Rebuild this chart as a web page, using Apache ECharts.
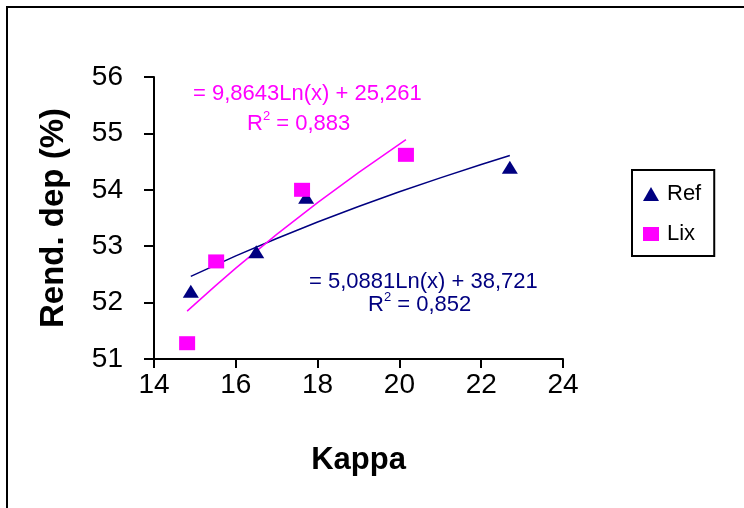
<!DOCTYPE html>
<html><head><meta charset="utf-8">
<script src="https://cdn.jsdelivr.net/npm/echarts@6/dist/echarts.min.js"></script>
<style>html,body{margin:0;padding:0;background:#fff}#c{width:744px;height:508px}</style>
</head><body><div id="c"></div>
<script>
// Data
const refX = [14.9, 16.5, 17.72, 22.7];
const refY = [52.2, 52.9, 53.87, 54.4];
const lixX = [14.81, 15.52, 17.62, 20.16];
const lixY = [51.28, 52.73, 54.0, 54.62];
// Trend curves (from the displayed log equations)
const refTrendX = [14.9, 16, 17, 18, 19, 20, 21, 22, 22.7];
const refTrendY = [52.466, 52.828, 53.137, 53.428, 53.703, 53.964, 54.212, 54.449, 54.608];
const lixTrendX = [14.81, 15.5, 16, 17, 18, 19, 20.16];
const lixTrendY = [51.848, 52.297, 52.611, 53.209, 53.772, 54.306, 54.890];
const xTicks = [14, 16, 18, 20, 22, 24];
const yTicks = [51, 52, 53, 54, 55, 56];

const NAVY = '#000080', PINK = '#FF00FF';
const FONT = 'Liberation Sans, Arial, sans-serif';
const pair = (xs, ys) => xs.map((x, i) => [x, ys[i]]);

const chart = echarts.init(document.getElementById('c'), null, {renderer: 'canvas'});
chart.setOption({
  animation: false,
  backgroundColor: '#fff',
  grid: {left: 154, right: 181, top: 77, bottom: 149},
  xAxis: {
    type: 'value', min: xTicks[0], max: xTicks[xTicks.length - 1], interval: 2,
    name: 'Kappa', nameLocation: 'middle', nameGap: 86,
    nameTextStyle: {fontFamily: FONT, fontSize: 31, fontWeight: 'bold', color: '#000'},
    axisLine: {lineStyle: {color: '#000', width: 2}},
    axisTick: {show: true, length: 9, inside: false, lineStyle: {color: '#000', width: 2}},
    axisLabel: {fontFamily: FONT, fontSize: 28, color: '#000', margin: 12},
    splitLine: {show: false}
  },
  yAxis: {
    type: 'value', min: yTicks[0], max: yTicks[yTicks.length - 1], interval: 1,
    name: 'Rend. dep (%)', nameLocation: 'middle', nameGap: 84, nameRotate: 90,
    nameTextStyle: {fontFamily: FONT, fontSize: 33, fontWeight: 'bold', color: '#000'},
    axisLine: {show: true, lineStyle: {color: '#000', width: 2}},
    axisTick: {show: true, length: 10, inside: false, lineStyle: {color: '#000', width: 2}},
    axisLabel: {fontFamily: FONT, fontSize: 28, color: '#000', margin: 31},
    splitLine: {show: false}
  },
  legend: {
    orient: 'vertical', left: 632, top: 170,
    padding: [13, 13, 11, 11], itemGap: 18,
    borderColor: '#000', borderWidth: 2,
    itemWidth: 16, itemHeight: 14,
    textStyle: {fontFamily: FONT, fontSize: 22, color: '#000', padding: [0, 0, 0, 3]},
    data: [{name: 'Ref', icon: 'triangle'}, {name: 'Lix', icon: 'rect'}]
  },
  series: [
    {name: 'RefTrend', type: 'line', data: pair(refTrendX, refTrendY), showSymbol: false, symbol: 'none',
     lineStyle: {color: NAVY, width: 1.5}, z: 2, silent: true},
    {name: 'LixTrend', type: 'line', data: pair(lixTrendX, lixTrendY), showSymbol: false, symbol: 'none',
     lineStyle: {color: PINK, width: 1.5}, z: 2, silent: true},
    {name: 'Ref', type: 'scatter', data: pair(refX, refY), symbol: 'triangle', symbolSize: [16, 13],
     itemStyle: {color: NAVY, opacity: 1}, z: 3},
    {name: 'Lix', type: 'scatter', data: pair(lixX, lixY), symbol: 'rect', symbolSize: [16, 14],
     itemStyle: {color: PINK, opacity: 1}, z: 3}
  ],
  graphic: [
    {type: 'rect', shape: {x: 7, y: 7, width: 800, height: 600},
     style: {fill: 'none', stroke: '#000', lineWidth: 2}, silent: true, z: -1},
    {type: 'text', x: 193, y: 94, style: {text: '= 9,8643Ln(x) + 25,261', fill: PINK, font: '22px ' + FONT, verticalAlign: 'middle'}},
    {type: 'text', x: 247, y: 122, style: {
      text: '{r|R}{s|2}{r| = 0,883}', verticalAlign: 'middle',
      rich: {r: {fontSize: 22, lineHeight: 25, fontFamily: FONT, fill: PINK, verticalAlign: 'bottom'},
             s: {fontSize: 13, lineHeight: 13, fontFamily: FONT, fill: PINK, verticalAlign: 'top'}}}},
    {type: 'text', x: 309, y: 282, style: {text: '= 5,0881Ln(x) + 38,721', fill: NAVY, font: '22px ' + FONT, verticalAlign: 'middle'}},
    {type: 'text', x: 368, y: 303, style: {
      text: '{r|R}{s|2}{r| = 0,852}', verticalAlign: 'middle',
      rich: {r: {fontSize: 22, lineHeight: 25, fontFamily: FONT, fill: NAVY, verticalAlign: 'bottom'},
             s: {fontSize: 13, lineHeight: 13, fontFamily: FONT, fill: NAVY, verticalAlign: 'top'}}}}
  ]
});
</script>
</body></html>
